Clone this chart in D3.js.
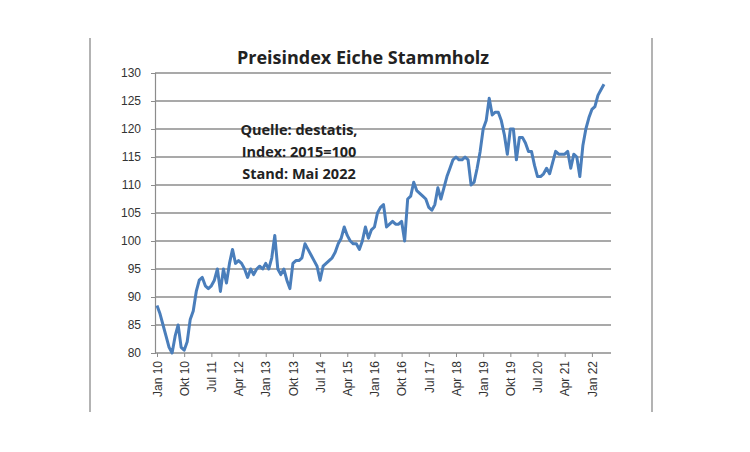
<!DOCTYPE html>
<html><head><meta charset="utf-8">
<script src="https://cdn.jsdelivr.net/npm/d3@7"></script>
<style>body{margin:0;background:#fff}svg{display:block}</style>
</head><body><svg id="c" width="750" height="452"></svg>
<script>
const title = "Preisindex Eiche Stammholz";
const noteLines = ["Quelle: destatis,", "Index: 2015=100", "Stand: Mai 2022"];
const tickLabels = ["Jan 10","Okt 10","Jul 11","Apr 12","Jan 13","Okt 13","Jul 14","Apr 15","Jan 16","Okt 16","Jul 17","Apr 18","Jan 19","Okt 19","Jul 20","Apr 21","Jan 22"];
const yTicks = [80,85,90,95,100,105,110,115,120,125,130];
const values = [88.5,87,85,83,81,80,83,85,81,80.5,82,86,87.5,91,93,93.5,92,91.5,92,93,95,91,95,92.5,96,98.5,96,96.5,96,95,93.5,95,94,95,95.5,95,96,95,97,101,95,94,95,93,91.5,96,96.5,96.5,97,99.5,98.5,97.5,96.5,95.5,93,95.5,96,96.5,97,98,99.5,100.5,102.5,101,100,99.5,99.5,98.5,100,102.5,100.5,102,102.5,105,106,106.5,102.5,103,103.5,103,103,103.5,100,107.5,108,110.5,109,108.5,108,107.5,106,105.5,106.5,109.5,107.5,109.5,111.5,113,114.5,115,114.5,114.5,115,114.5,110,110.5,113,116,120,121.5,125.5,122.5,123,123,121.5,119,115.5,120,120,114.5,118.5,118.5,117.5,116,116,113.5,111.5,111.5,112,113,112,114,116,115.5,115.5,115.5,116,113,115.5,115,111.5,117,120,122,123.5,124,126,127,128];

const svg = d3.select("#c");
const x = d3.scaleLinear().domain([0, 149]).range([157, 607]);
const y = d3.scaleLinear().domain([80, 130]).range([353, 73]);

// frame lines
svg.append("line").attr("x1",90).attr("x2",90).attr("y1",38).attr("y2",412).attr("stroke","#9a9a9a").attr("stroke-width",1.5);
svg.append("line").attr("x1",652).attr("x2",652).attr("y1",38).attr("y2",412).attr("stroke","#9a9a9a").attr("stroke-width",1.5);

// gridlines
svg.append("g").selectAll("line").data(yTicks.slice(1)).join("line")
  .attr("x1",155).attr("x2",611).attr("y1",d=>y(d)).attr("y2",d=>y(d))
  .attr("stroke","#8c8c8c").attr("stroke-width",1.4);

// y axis
const yAxis = d3.axisLeft(y).tickValues(yTicks).tickSize(4).tickPadding(10);
const gy = svg.append("g").attr("transform","translate(155,0)").call(yAxis);
gy.select(".domain").attr("stroke","#8c8c8c").attr("stroke-width",1.2);
gy.selectAll(".tick line").attr("stroke","#8c8c8c");
gy.selectAll("text").attr("font-family","Liberation Sans, Arial, sans-serif").attr("font-size",12).attr("fill","#333");

// x axis
const tickIdx = tickLabels.map((d,i)=>i*9);
const xAxis = d3.axisBottom(x).tickValues(tickIdx).tickFormat((d,i)=>tickLabels[i]).tickSize(4).tickSizeOuter(0);
const gx = svg.append("g").attr("transform","translate(0,353)").call(xAxis);
gx.select(".domain").attr("d","M155,0H611").attr("stroke","#8c8c8c").attr("stroke-width",1.4);
gx.selectAll(".tick line").attr("stroke","#8c8c8c");
gx.selectAll("text").attr("font-family","Liberation Sans, Arial, sans-serif").attr("font-size",12).attr("fill","#333")
  .attr("transform","rotate(-90)").attr("text-anchor","end").attr("x",-8).attr("y",0).attr("dy","0.35em");

// line
const line = d3.line().x((d,i)=>x(i)).y(d=>y(d));
svg.append("path").datum(values).attr("d",line).attr("fill","none")
  .attr("stroke","#4a7ebb").attr("stroke-width",3).attr("stroke-linejoin","round");

// title
svg.append("text").attr("x",363).attr("y",64).attr("text-anchor","middle")
  .attr("font-family","Open Sans, sans-serif").attr("font-weight","bold").attr("font-size",18).attr("fill","#222").text(title);

// note
svg.append("g").selectAll("text").data(noteLines).join("text")
  .attr("x",299).attr("y",(d,i)=>135+i*22).attr("text-anchor","middle")
  .attr("font-family","Open Sans, sans-serif").attr("font-weight","bold").attr("font-size",14.5).attr("fill","#222").text(d=>d);
</script></body></html>
